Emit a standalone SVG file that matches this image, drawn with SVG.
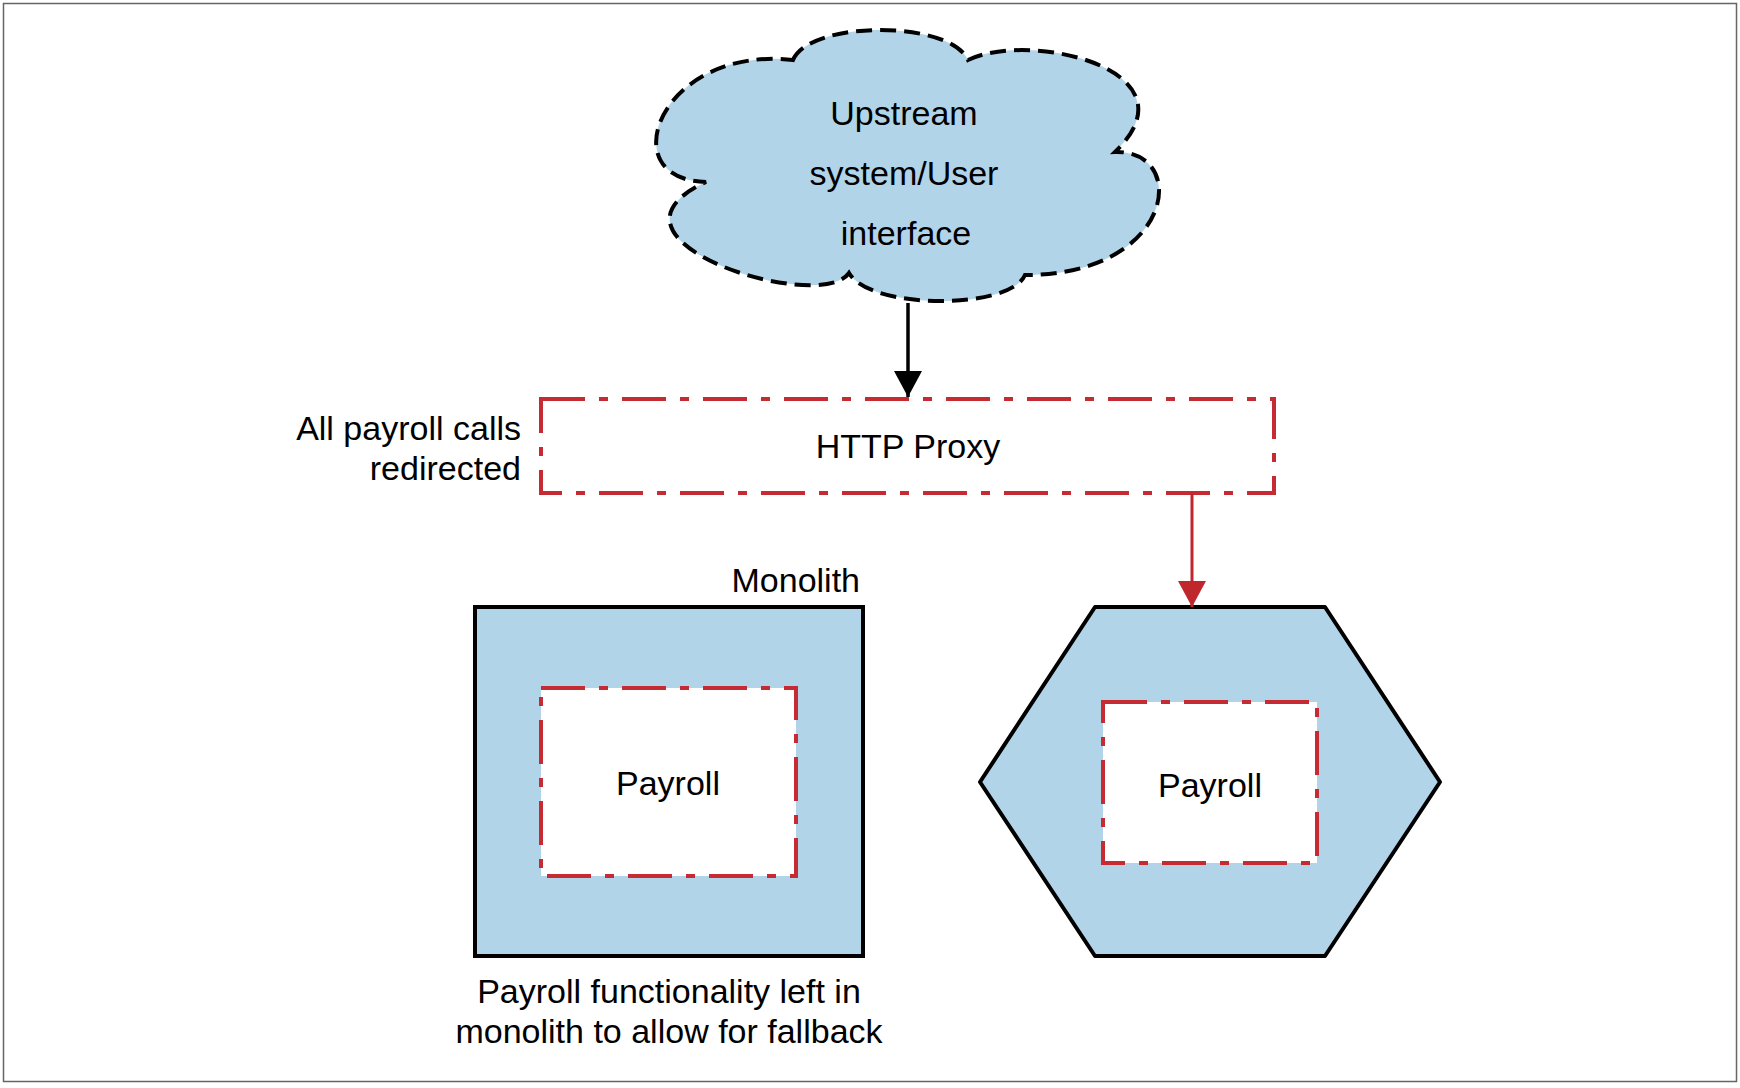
<svg xmlns="http://www.w3.org/2000/svg" width="1740" height="1088" viewBox="0 0 1740 1088">
<style>
text{font-family:"Liberation Sans",Arial,sans-serif;font-size:34px;fill:#000}
.mid{text-anchor:middle}
.end{text-anchor:end}
.blue{fill:#b2d4e9}
.solid{stroke:#000;stroke-width:4}
.dashdot{fill:#fff;stroke:#c62a32;stroke-width:4;stroke-dasharray:44 14 9 14}
</style>
<defs>
<marker id="ahBlack" markerWidth="28" markerHeight="28" refX="26" refY="14" orient="auto" markerUnits="userSpaceOnUse">
<path d="M0,0 L26,14 L0,28 Z" fill="#000"/>
</marker>
<marker id="ahRed" markerWidth="28" markerHeight="28" refX="26" refY="14" orient="auto" markerUnits="userSpaceOnUse">
<path d="M0,0 L26,14 L0,28 Z" fill="#c0272d"/>
</marker>
</defs>
<rect x="3.5" y="3.5" width="1733" height="1078" fill="#fff" stroke="#666" stroke-width="1.5"/>

<g id="cloud">
<path class="blue" stroke="#000" stroke-width="4" stroke-dasharray="16 8" d="M793,60 C810,20 950,20 968,60 C1030,30 1200,70 1115,152 C1190,150 1175,275 1025,275 C1010,310 870,310 849,273 C820,315 580,240 706,182 C610,180 660,45 793,60 Z"/>
<text class="mid" x="904" y="125">Upstream</text>
<text class="mid" x="904" y="185">system/User</text>
<text class="mid" x="906" y="245">interface</text>
</g>

<g id="proxy">
<rect class="dashdot" x="541" y="399" width="733" height="94"/>
<text class="mid" x="908" y="458">HTTP Proxy</text>
</g>

<g id="proxy-note">
<text class="end" x="521" y="440">All payroll calls</text>
<text class="end" x="521" y="480">redirected</text>
</g>

<g id="monolith">
<text class="end" x="860" y="592">Monolith</text>
<rect class="blue solid" x="475" y="607" width="388" height="349"/>
<rect class="dashdot" x="541" y="688" width="255" height="188"/>
<text class="mid" x="668" y="795">Payroll</text>
<text class="mid" x="669" y="1003">Payroll functionality left in</text>
<text class="mid" x="669" y="1043">monolith to allow for fallback</text>
</g>

<g id="microservice">
<polygon class="blue solid" stroke-linejoin="round" points="1095,607 1325,607 1440,782 1325,956 1095,956 980,782"/>
<rect class="dashdot" x="1103" y="702" width="214" height="161"/>
<text class="mid" x="1210" y="797">Payroll</text>
</g>

<g id="connectors">
<line x1="908" y1="303" x2="908" y2="397" stroke="#000" stroke-width="3.5" marker-end="url(#ahBlack)"/>
<line x1="1192" y1="493" x2="1192" y2="607" stroke="#c0272d" stroke-width="3" marker-end="url(#ahRed)"/>
</g>
</svg>
